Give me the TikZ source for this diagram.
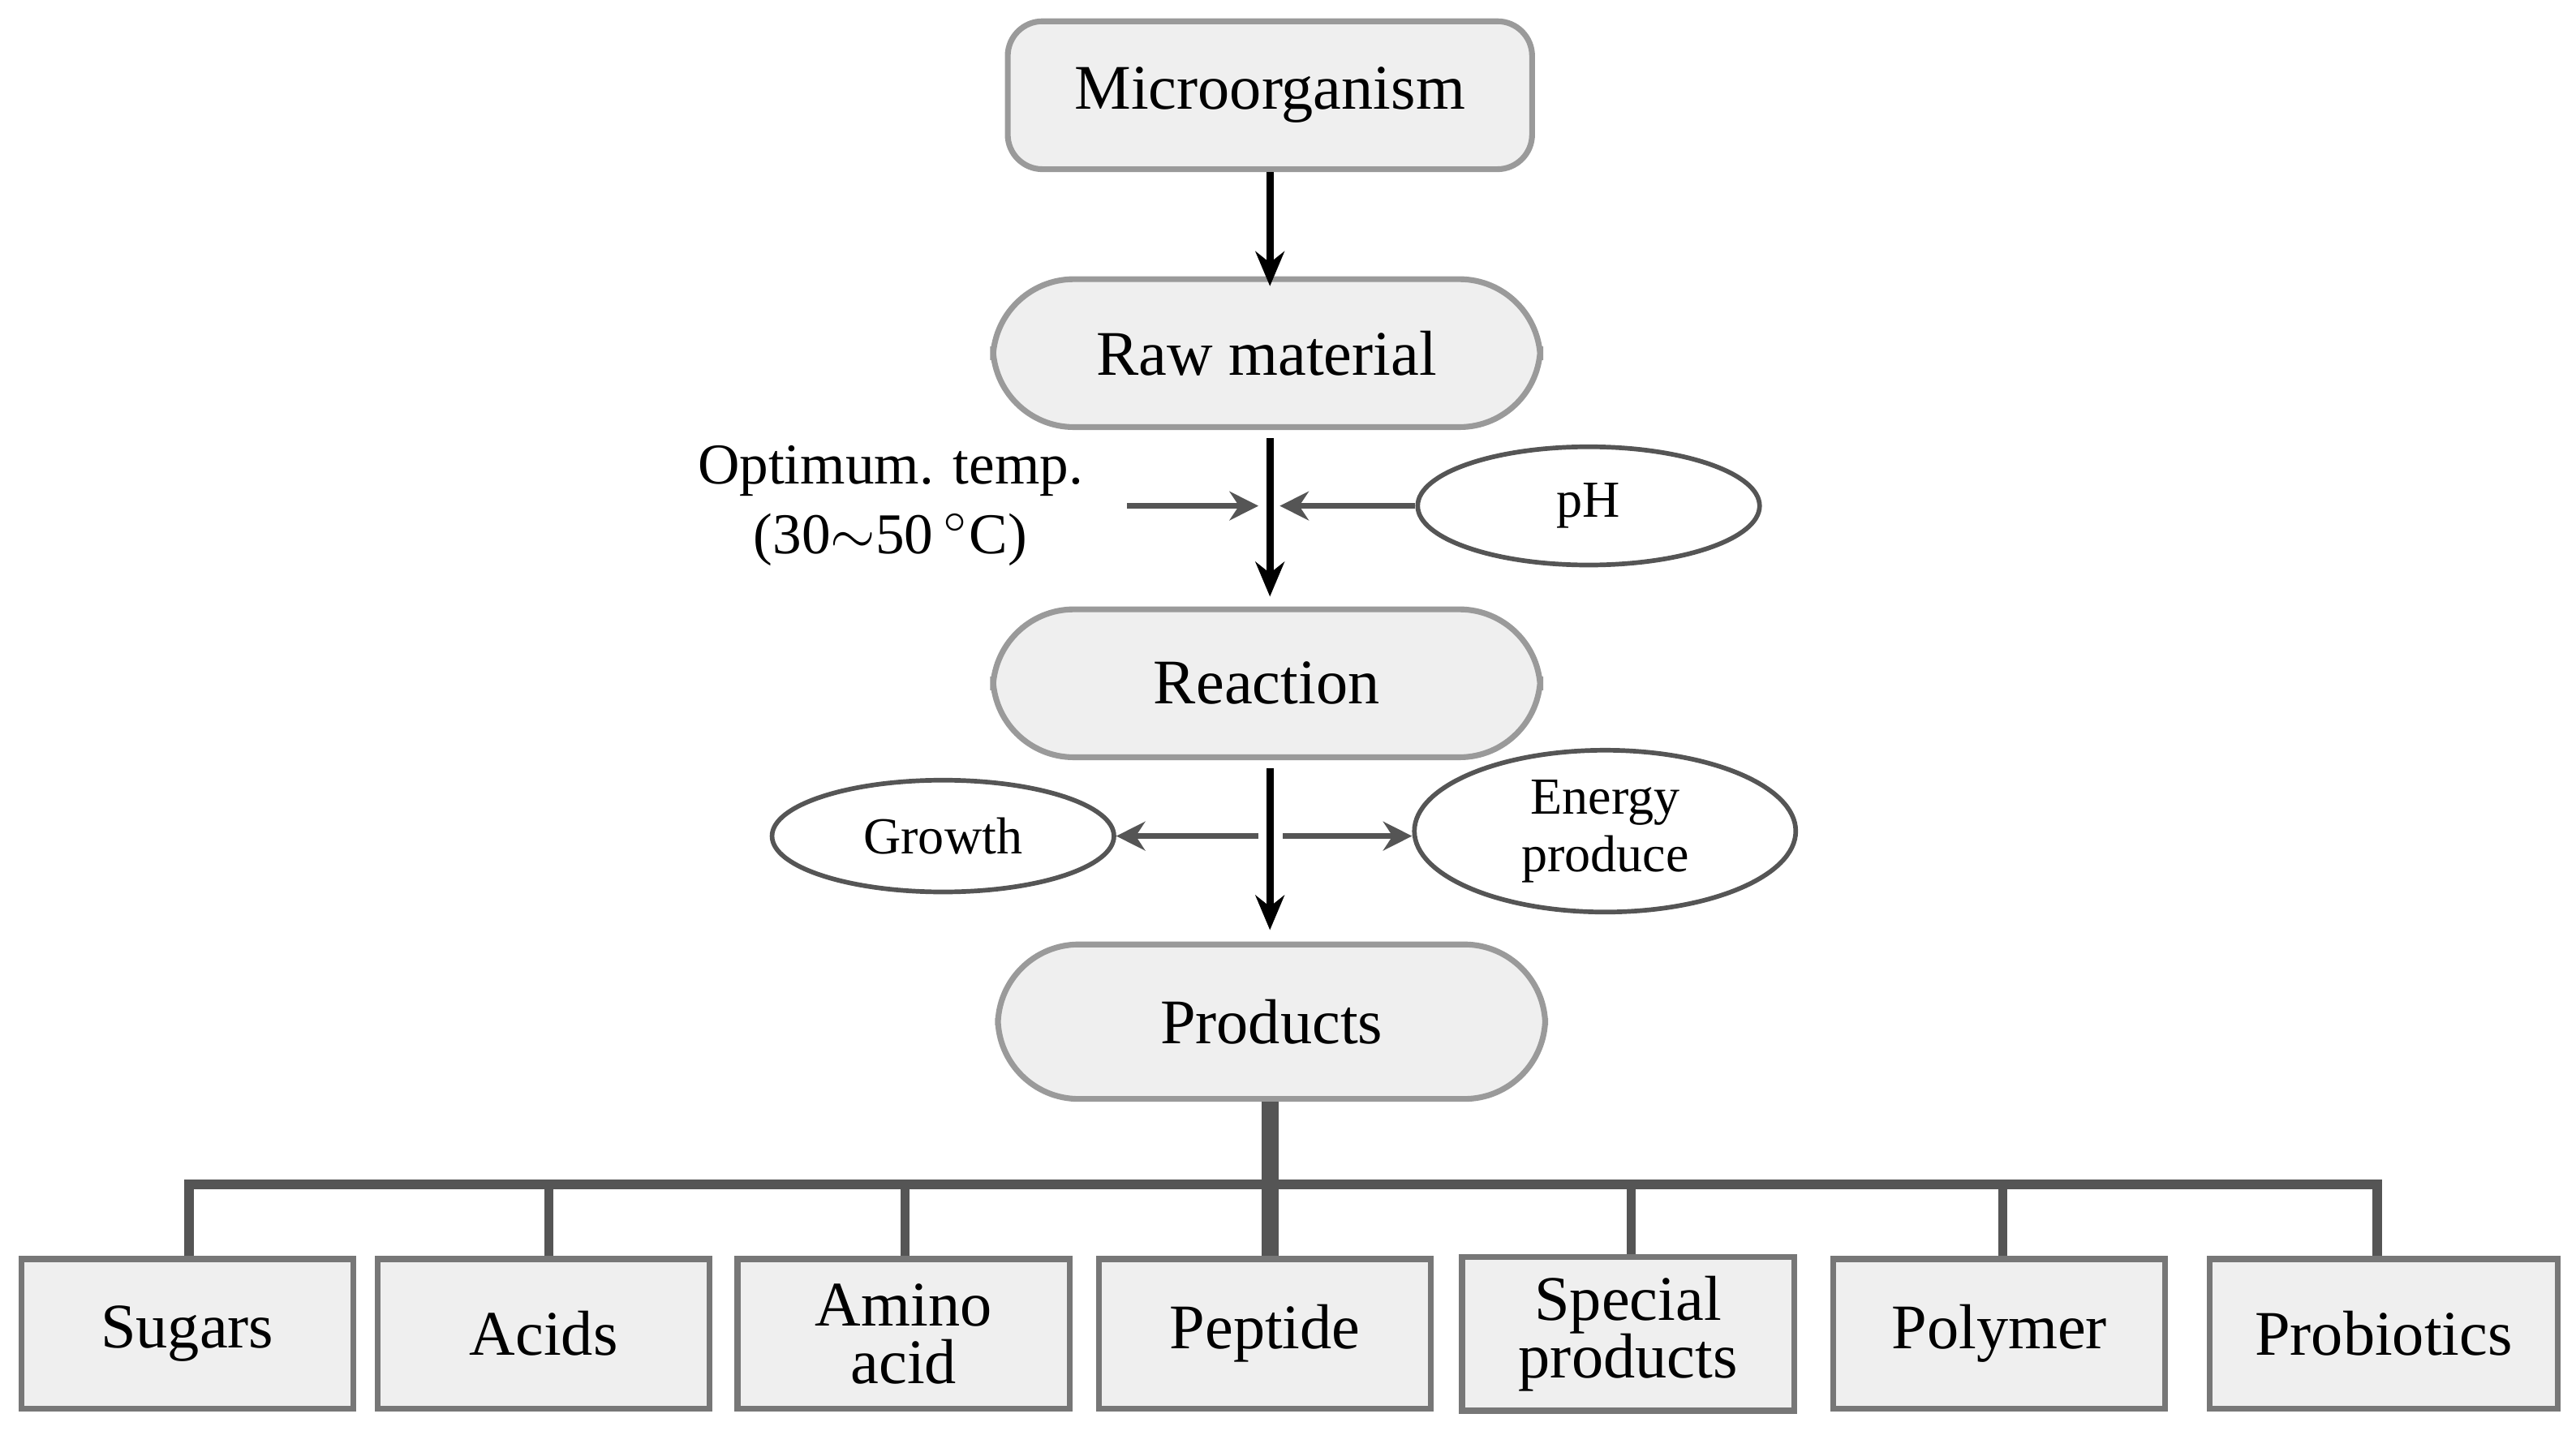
\documentclass[tikz,border=0pt]{standalone}
\usepackage{fontspec}
\setmainfont{Liberation Serif}
\usetikzlibrary{shapes.geometric,arrows.meta}
\definecolor{boxfill}{HTML}{EFEFEF}
\definecolor{boxdraw}{HTML}{9A9A9A}
\definecolor{linegray}{HTML}{555555}
\begin{document}
\begin{tikzpicture}[x=0.01cm,y=-0.01cm,
  main/.style={draw=boxdraw,fill=boxfill,line width=1pt,rounded corners=#1,font=\fontsize{11}{12}\selectfont},
  leaf/.style={draw=linegray!80,fill=boxfill,line width=1pt,minimum width=2.02cm,minimum height=0.91cm,align=center,font=\fontsize{11}{10}\selectfont},
  ell/.style={draw=linegray,ellipse,line width=0.8pt,align=center,font=\fontsize{9}{10}\selectfont},
  arr/.style={-{Stealth[length=6pt,width=5pt]},line width=1.2pt},
  garr/.style={-{Stealth[length=5pt,width=5pt]},line width=1pt,draw=linegray,fill=linegray},
  tree/.style={draw=linegray,line width=1.6pt}]
\useasboundingbox (0,0) rectangle (1568,871);
\node[main=6pt,minimum width=3.19cm,minimum height=0.9cm] (m) at (773,58) {Microorganism};
\node[main=14pt,minimum width=3.33cm,minimum height=0.9cm] (r) at (771,215) {Raw material};
\node[main=14pt,minimum width=3.33cm,minimum height=0.9cm] (re) at (771,416) {Reaction};
\node[main=14pt,minimum width=3.33cm,minimum height=0.94cm] (p) at (774,622) {Products};
\draw[arr] (m.south -| 773,0) -- ([yshift=-0.06cm]r.north -| 773,0);
\draw[arr] ([yshift=-0.05cm]r.south -| 773,0) -- ([yshift=0.06cm]re.north -| 773,0);
\draw[arr] ([yshift=-0.05cm]re.south -| 773,0) -- ([yshift=0.07cm]p.north -| 773,0);
\node[align=center,font=\fontsize{10}{12}\selectfont] (t) at (542,308) {Optimum. temp.\\(30$\sim$50\,$^{\circ}$C)};
\coordinate (tl) at (686,308); \coordinate (tr) at (766,308);
\draw[garr] (tl) -- (tr);
\node[ell,minimum width=2.08cm,minimum height=0.6cm] (ph) at (967,308) {pH};
\coordinate (phe) at (779,308);
\draw[garr] (ph.west) -- (phe);
\node[ell,minimum width=2.08cm,minimum height=0.68cm] (g) at (574,509) {Growth};
\coordinate (gs) at (766,509);
\draw[garr] (gs) -- (g.east);
\node[ell,minimum width=2.32cm,minimum height=0.9cm,inner sep=1pt] (e) at (977,506) {Energy\\produce};
\coordinate (es) at (781,509);
\draw[garr] (es) -- (e.west |- es);
\node[leaf] (b1) at (114,812) {Sugars};
\node[leaf] (b2) at (331,812) {Acids};
\node[leaf] (b3) at (550,812) {Amino\\acid};
\node[leaf] (b4) at (770,812) {Peptide};
\node[leaf] (b5) at (991,812) {Special\\products};
\node[leaf] (b6) at (1217,812) {Polymer};
\node[leaf,minimum width=2.12cm] (b7) at (1451,812) {Probiotics};
\coordinate (hub) at (773,721);
\draw[tree,line width=3pt] (p.south -| 773,0) -- (b4.north -| 773,0);
\draw[tree] (b1.north -| 115,0) |- (hub) -| (b7.north -| 1447,0);
\foreach \b/\x in {b2/334,b3/551,b5/993,b6/1219}
  \draw[tree] (\x,721) -- (\b.north -| \x,0);
\end{tikzpicture}
\end{document}
